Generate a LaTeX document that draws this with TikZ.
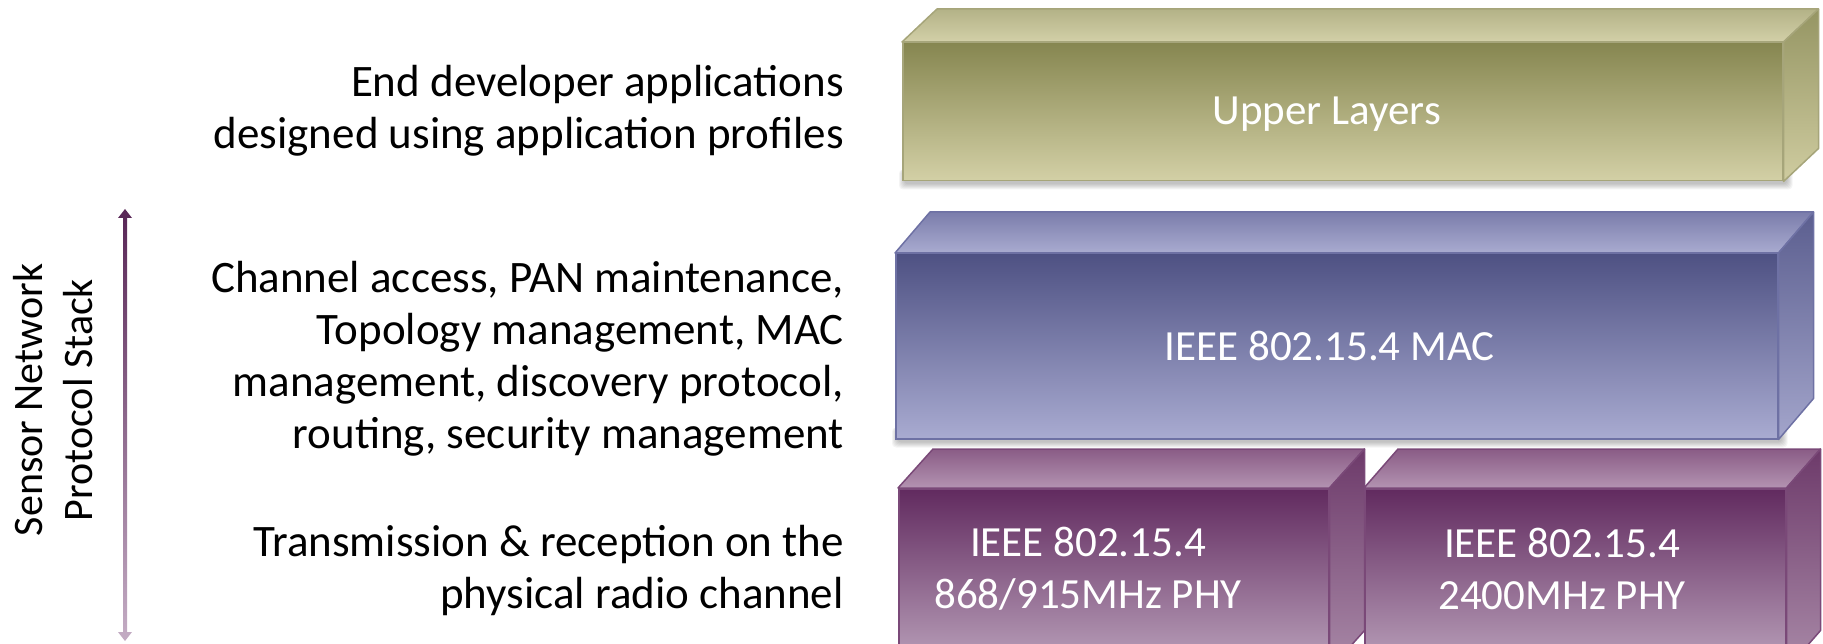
\documentclass[tikz,border=0pt]{standalone}
\usepackage{fontspec}
\setmainfont{Carlito}
\usetikzlibrary{calc,backgrounds}
\definecolor{upF1}{HTML}{868650}
\definecolor{upF2}{HTML}{D3D0A6}
\definecolor{upT1}{HTML}{B3B287}
\definecolor{upT2}{HTML}{9A9A68}
\definecolor{upT3}{HTML}{D3D0A8}
\definecolor{upS1}{HTML}{959563}
\definecolor{upS2}{HTML}{CFCCA0}
\definecolor{upL}{HTML}{A6A57A}
\definecolor{macF1}{HTML}{4E5183}
\definecolor{macF2}{HTML}{A9ABD1}
\definecolor{macT1}{HTML}{7B7DAB}
\definecolor{macT2}{HTML}{5E6192}
\definecolor{macT3}{HTML}{A9ABD0}
\definecolor{macS1}{HTML}{5B5E8F}
\definecolor{macS2}{HTML}{A3A5CB}
\definecolor{macL}{HTML}{6E71A4}
\definecolor{phyF1}{HTML}{612A5F}
\definecolor{phyF2}{HTML}{BBA3BC}
\definecolor{phyT1}{HTML}{8A5C86}
\definecolor{phyT2}{HTML}{6E3C6B}
\definecolor{phyT3}{HTML}{B393B1}
\definecolor{phyS1}{HTML}{6D3A6A}
\definecolor{phyS2}{HTML}{A98AA8}
\definecolor{phyL}{HTML}{7A4978}
\definecolor{arrT}{HTML}{5A2858}
\definecolor{arrB}{HTML}{C2AAC2}
\tikzset{
  face/.style={draw, line width=1.5, inner sep=0, anchor=north west},
  lbl/.style={anchor=base east, inner sep=0, font=\fontsize{45}{52}\selectfont},
  rot/.style={rotate=90, anchor=base, inner sep=0, font=\fontsize{42}{52}\selectfont},
  boxtxt/.style={text=white, inner sep=0, align=center, font=\fontsize{43}{52}\selectfont},
}
\newcommand\mycuboid[4]{%
  \shade[top color=#2T1, middle color=#2T2, bottom color=#2T3, draw=#2L, line width=1.5, line join=round]
    (#1.north west) -- ++(#3,#4) -- ($(#1.north east)+(#3,#4)$) -- (#1.north east) -- cycle;
  \shade[top color=#2S1, bottom color=#2S2, draw=#2L, line width=1.5, line join=round]
    (#1.north east) -- ++(#3,#4) -- ($(#1.south east)+(#3,#4)$) -- (#1.south east) -- cycle;
}
\newcommand\myshadow[1]{%
  \foreach \k in {1,...,6}{
    \fill[black, opacity=0.045, rounded corners=4]
      ($(#1.south west)+(-\k+3,-12)$) rectangle ($(#1.south east)+(\k+3,\k+2)$);
  }
}
\begin{document}
\begin{tikzpicture}[x=1pt,y=-1pt]
\useasboundingbox (0,0) rectangle (1823,644);
\clip (0,0) rectangle (1823,644);

% upper layers
\node[face, draw=upL, top color=upF1, bottom color=upF2, minimum width=880, minimum height=138] (up) at (902,42) {};
\mycuboid{up}{up}{35}{-33}
\node[boxtxt] (upt) at ($(up.center)+(-16,2)$) {Upper Layers};

% MAC
\node[face, draw=macL, top color=macF1, bottom color=macF2, minimum width=882, minimum height=185] (mac) at (895,253) {};
\mycuboid{mac}{mac}{35}{-41}
\node[boxtxt] (mact) at ($(mac.center)+(-7,0)$) {IEEE 802.15.4 MAC};

% PHY boxes
\node[face, draw=phyL, top color=phyF1, bottom color=phyF2, minimum width=430, minimum height=180] (pa) at (898,488) {};
\mycuboid{pa}{phy}{35}{-39}
\node[boxtxt] (pat) at (1088,569) {IEEE 802.15.4\\868/915MHz PHY};

\node[face, draw=phyL, top color=phyF1, bottom color=phyF2, minimum width=421, minimum height=180] (pb) at (1364,488) {};
\mycuboid{pb}{phy}{34}{-39}
\node[boxtxt] (pbt) at (1562,569) {IEEE 802.15.4\\2400MHz PHY};

\begin{scope}[on background layer]
  \myshadow{up}
  \myshadow{mac}
\end{scope}

% left labels
\node[lbl] (a1) at (844,97) {End developer applications};
\node[lbl] (a2) at (844,149) {designed using application profiles};
\node[lbl] (b1) at (844,293) {Channel access, PAN maintenance,};
\node[lbl] (b2) at (844,344) {Topology management, MAC};
\node[lbl] (b3) at (844,396) {management, discovery protocol,};
\node[lbl] (b4) at (844,448) {routing, security management};
\node[lbl] (c1) at (844,556) {Transmission \& reception on the};
\node[lbl] (c2) at (844,608) {physical radio channel};

% rotated label
\node[rot] (sn) at (42,400) {Sensor Network};
\node[rot] (ps) at (92,400) {Protocol Stack};

% double arrow
\coordinate (atop) at (125,209);
\coordinate (abot) at (125,641);
\shade[top color=arrT, bottom color=arrB] ($(atop)+(-2,8)$) rectangle ($(abot)+(2,-8)$);
\fill[arrT] (atop) -- ++(-7,9) -- ++(14,0) -- cycle;
\fill[arrB] (abot) -- ++(-7,-9) -- ++(14,0) -- cycle;
\end{tikzpicture}
\end{document}
